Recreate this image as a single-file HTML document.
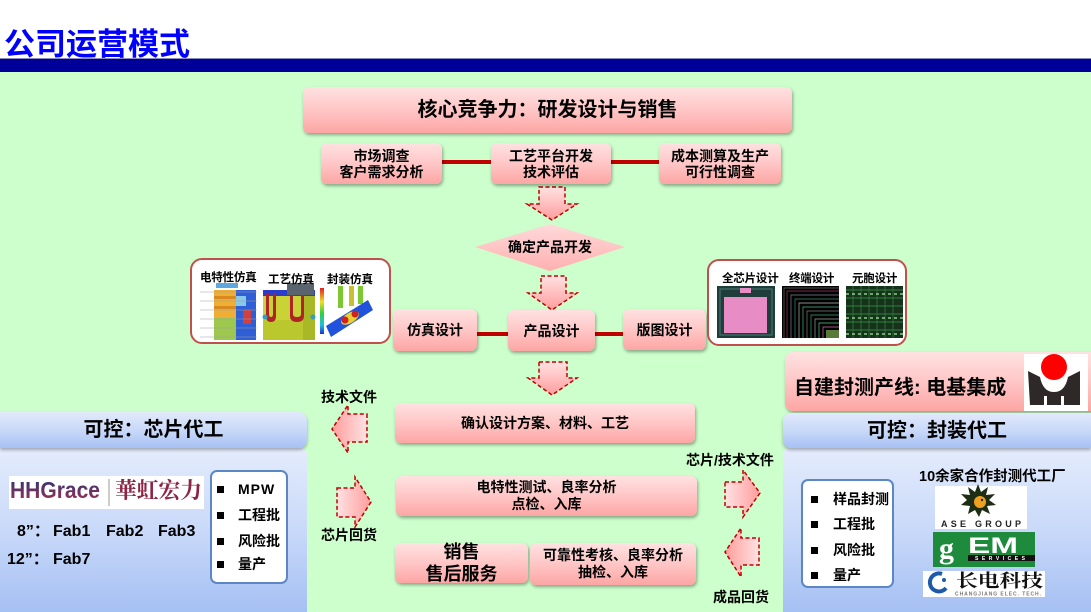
<!DOCTYPE html>
<html><head><meta charset="utf-8">
<style>
*{margin:0;padding:0;box-sizing:border-box}
body{width:1091px;height:612px;overflow:hidden;background:#fff;position:relative;font-family:"Liberation Sans","Noto Sans CJK SC",sans-serif;font-weight:bold;color:#000}
.a{position:absolute}
.pk{position:absolute;background:linear-gradient(to bottom,#FFE2E2 0%,#FFC6C6 50%,#FCA6A4 100%);border-radius:6px;box-shadow:1px 2px 3px rgba(0,0,0,.35);display:flex;align-items:center;justify-content:center;text-align:center;font-size:14px;line-height:16px}
.lb{position:absolute;font-size:14px;line-height:16px;white-space:nowrap}
.il{position:absolute;font-size:11.5px;line-height:14px;white-space:nowrap;letter-spacing:-0.2px}
.bh{position:absolute;background:linear-gradient(to bottom,#E2EAFB 0%,#C6D7F8 55%,#A6C1F4 100%);box-shadow:0 2px 3px rgba(0,0,0,.3);display:flex;align-items:center;justify-content:center;font-size:20px;line-height:24px}
.bb{position:absolute;background:linear-gradient(to bottom,#E4ECFC 0%,#C9D9F9 50%,#A5C0F3 100%)}
.ul{position:absolute;background:#fff;border:2px solid #5B87C5;border-radius:7px}
.sq{position:absolute;width:7px;height:7px;background:#000}
.bt{position:absolute;font-size:14px;line-height:16px;white-space:nowrap}
.ip{position:absolute;background:#fff;border:2.5px solid #C0504D;border-radius:12px}
.fb{position:absolute;font-size:16px;line-height:18px;white-space:nowrap}
</style></head><body>

<div class="a" style="left:4px;top:27px;font-size:31px;line-height:36px;color:#0000FF;white-space:nowrap">公司运营模式</div>
<div class="a" style="left:0;top:58px;width:1091px;height:14px;background:#000099;border-top:1px solid #8C8CC4"></div>
<div class="a" style="left:0;top:72px;width:1091px;height:540px;background:#CCFFCC"></div>

<svg class="a" style="left:0;top:0" width="1091" height="612">
<defs>
<linearGradient id="gv" x1="0" y1="0" x2="0" y2="1"><stop offset="0" stop-color="#FFE2E2"/><stop offset="1" stop-color="#FF9C9C"/></linearGradient>
<linearGradient id="gl" x1="1" y1="0" x2="0" y2="0"><stop offset="0" stop-color="#FFE2E2"/><stop offset="1" stop-color="#FF9C9C"/></linearGradient>
<linearGradient id="gr" x1="0" y1="0" x2="1" y2="0"><stop offset="0" stop-color="#FFE2E2"/><stop offset="1" stop-color="#FF9C9C"/></linearGradient>
<linearGradient id="gd" x1="0" y1="0" x2="0" y2="1"><stop offset="0" stop-color="#FFDADA"/><stop offset="1" stop-color="#FFB0B0"/></linearGradient>
</defs>
<g fill="#C00000">
<rect x="440" y="160" width="53" height="4"/>
<rect x="609" y="160" width="52" height="4"/>
<rect x="475" y="332" width="35" height="4"/>
<rect x="593" y="332" width="32" height="4"/>
</g>
<polygon points="475,247 550,224 625,247 550,271" fill="url(#gd)"/>
<g stroke="#C00000" stroke-width="1.5" stroke-dasharray="4 2.5">
<path d="M539,187H565V204H577L552,220L527,204H539Z" fill="url(#gv)"/>
<path d="M541,276H566V293H577L552,310L528,293H541Z" fill="url(#gv)"/>
<path d="M539,362H567V378H577L552,395L528,378H539Z" fill="url(#gv)"/>
<path d="M367,414V442H348V453L332,429L348,405V414Z" fill="url(#gl)"/>
<path d="M337,488H355V477L371,502L355,527V517H337Z" fill="url(#gr)"/>
<path d="M725,482H743V470L760,493L743,517V507H725Z" fill="url(#gr)"/>
<path d="M759,538V565H741V577L725,552L741,528V538Z" fill="url(#gl)"/>
</g>
</svg>

<div class="pk" style="left:303px;top:87px;width:489px;height:46px;font-size:20px;line-height:24px">核心竞争力：研发设计与销售</div>
<div class="pk" style="left:321px;top:143px;width:121px;height:41px">市场调查<br>客户需求分析</div>
<div class="pk" style="left:491px;top:143px;width:120px;height:41px">工艺平台开发<br>技术评估</div>
<div class="pk" style="left:659px;top:143px;width:122px;height:41px">成本测算及生产<br>可行性调查</div>
<div class="a" style="left:475px;top:238px;width:150px;text-align:center;font-size:14px;line-height:18px">确定产品开发</div>

<div class="pk" style="left:393px;top:309px;width:84px;height:42px">仿真设计</div>
<div class="pk" style="left:508px;top:310px;width:87px;height:41px">产品设计</div>
<div class="pk" style="left:623px;top:309px;width:83px;height:41px">版图设计</div>

<div class="pk" style="left:395px;top:403px;width:300px;height:40px">确认设计方案、材料、工艺</div>
<div class="pk" style="left:396px;top:476px;width:301px;height:40px;line-height:17px">电特性测试、良率分析<br>点检、入库</div>
<div class="pk" style="left:395px;top:543px;width:133px;height:40px;font-size:18px;line-height:22px">销售<br>售后服务</div>
<div class="pk" style="left:530px;top:543px;width:166px;height:42px;line-height:17px">可靠性考核、良率分析<br>抽检、入库</div>

<div class="lb" style="left:321px;top:389px">技术文件</div>
<div class="lb" style="left:321px;top:527px">芯片回货</div>
<div class="lb" style="left:686px;top:452px">芯片/技术文件</div>
<div class="lb" style="left:713px;top:589px">成品回货</div>

<!-- image panels -->
<div class="ip" style="left:190px;top:258px;width:201px;height:86px"></div>
<div class="ip" style="left:707px;top:259px;width:200px;height:87px"></div>

<!-- right header box -->
<div class="pk" style="left:785px;top:352px;width:320px;height:59px;justify-content:flex-start;font-size:20px;line-height:24px;border-radius:8px"><span style="margin-left:9px;margin-top:12px">自建封测产线: 电基集成</span></div>

<!-- left blue panel -->
<div class="bb" style="left:0;top:448px;width:307px;height:164px;border-radius:0 6px 0 0"></div>
<div class="bh" style="left:0;top:412px;width:307px;height:36px;border-radius:0 8px 8px 0">可控：芯片代工</div>
<!-- right blue panel -->
<div class="bb" style="left:783px;top:448px;width:308px;height:164px;border-radius:6px 0 0 0"></div>
<div class="bh" style="left:783px;top:413px;width:308px;height:35px;border-radius:8px 0 0 8px">可控：封装代工</div>

<div class="ul" style="left:210px;top:470px;width:78px;height:114px"></div>
<div class="sq" style="left:217px;top:486px"></div><div class="bt" style="left:238px;top:481px;letter-spacing:1px">MPW</div>
<div class="sq" style="left:217px;top:512px"></div><div class="bt" style="left:238px;top:507px">工程批</div>
<div class="sq" style="left:217px;top:538px"></div><div class="bt" style="left:238px;top:533px">风险批</div>
<div class="sq" style="left:217px;top:561px"></div><div class="bt" style="left:238px;top:556px">量产</div>

<div class="ul" style="left:801px;top:479px;width:93px;height:109px"></div>
<div class="sq" style="left:811px;top:496px"></div><div class="bt" style="left:833px;top:491px">样品封测</div>
<div class="sq" style="left:811px;top:521px"></div><div class="bt" style="left:833px;top:516px">工程批</div>
<div class="sq" style="left:811px;top:547px"></div><div class="bt" style="left:833px;top:542px">风险批</div>
<div class="sq" style="left:811px;top:572px"></div><div class="bt" style="left:833px;top:567px">量产</div>

<div class="fb" style="left:17px;top:523px">8”：</div>
<div class="fb" style="left:53px;top:523px">Fab1</div>
<div class="fb" style="left:106px;top:523px">Fab2</div>
<div class="fb" style="left:158px;top:523px">Fab3</div>
<div class="fb" style="left:7px;top:551px">12”：</div>
<div class="fb" style="left:53px;top:551px">Fab7</div>

<div class="lb" style="left:919px;top:469px;font-size:14.5px">10余家合作封测代工厂</div>

<!-- image labels -->
<div class="il" style="left:200px;top:271px">电特性仿真</div>
<div class="il" style="left:722px;top:272px">全芯片设计</div>
<div class="il" style="left:789px;top:272px">终端设计</div>
<div class="il" style="left:852px;top:272px">元胞设计</div>

<svg class="a" style="left:0;top:0" width="1091" height="612">
<defs>
<linearGradient id="cb" x1="0" y1="0" x2="0" y2="1"><stop offset="0" stop-color="#E02020"/><stop offset=".3" stop-color="#F0E020"/><stop offset=".55" stop-color="#30D040"/><stop offset=".8" stop-color="#20C0E0"/><stop offset="1" stop-color="#2030D0"/></linearGradient>
<linearGradient id="hh" x1="0" y1="0" x2="0" y2="1"><stop offset="0" stop-color="#22337A"/><stop offset="1" stop-color="#A8304E"/></linearGradient>
</defs>
<!-- left image 1 -->
<rect x="200" y="285" width="57" height="55" fill="#fff"/>
<rect x="214" y="290" width="22" height="50" fill="#EFAE34"/>
<rect x="214" y="296" width="22" height="3" fill="#D88A20"/>
<rect x="214" y="306" width="22" height="3" fill="#D88A20"/>
<rect x="214" y="318" width="22" height="22" fill="#9CC84E"/>
<rect x="236" y="290" width="20" height="50" fill="#2F5FD6"/>
<rect x="236" y="296" width="10" height="10" fill="#88C8E8"/>
<rect x="243" y="310" width="8" height="14" fill="#D04040"/>
<rect x="216" y="283" width="22" height="5" fill="#5EA8E0"/>
<g stroke="#A0A0A0" stroke-width="0.6"><line x1="200" y1="292" x2="257" y2="292"/><line x1="200" y1="301" x2="257" y2="301"/><line x1="200" y1="310" x2="257" y2="310"/><line x1="200" y1="319" x2="257" y2="319"/><line x1="200" y1="328" x2="257" y2="328"/><line x1="200" y1="337" x2="257" y2="337"/></g>
<!-- left image 2 -->
<rect x="263" y="293" width="52" height="47" fill="#C9D336"/>
<rect x="263" y="320" width="52" height="20" fill="#BAC82E"/>
<rect x="303" y="296" width="12" height="44" fill="#A8B826"/>
<rect x="263" y="290" width="52" height="6" fill="#2A3CC8"/>
<path d="M266,294 v22 q0,6 5,6 q5,0 5,-6 v-22 h-3 v20 q0,3 -2,3 q-2,0 -2,-3 v-20z" fill="#B02428"/>
<path d="M290,294 v22 q0,6 7,6 q7,0 7,-6 v-22 h-3 v20 q0,3 -4,3 q-4,0 -4,-3 v-20z" fill="#B02428"/>
<rect x="287" y="283" width="27" height="12" fill="#5A646E"/>
<circle cx="265" cy="317" r="2.5" fill="#30A0C0"/><circle cx="313" cy="317" r="2.5" fill="#30A0C0"/>
<!-- left image 3 -->
<rect x="319" y="284" width="54" height="56" fill="#fff"/>
<rect x="320" y="288" width="4" height="46" fill="url(#cb)"/>
<path d="M338,286 h5 v22 h-5z" fill="#7CC832"/><path d="M349,286 h5 v20 h-5z" fill="#C8C030"/><path d="M358,286 h5 v18 h-5z" fill="#7CC832"/>
<polygon points="326,326 368,300 373,310 331,337" fill="#2052DC"/>
<ellipse cx="350" cy="318" rx="10" ry="5" transform="rotate(-32 350 318)" fill="#E8D030"/>
<circle cx="345" cy="320" r="3.5" fill="#D02020"/><circle cx="355" cy="314" r="3.5" fill="#D02020"/>
<!-- right image 1 -->
<rect x="717" y="286" width="58" height="52" fill="#1F3D3B"/>
<rect x="720" y="289" width="52" height="46" fill="none" stroke="#4E7C72" stroke-width="1"/>
<rect x="724" y="297" width="43" height="36" fill="#E88CC6"/>
<rect x="740" y="288" width="11" height="5" fill="#E88CC6"/>
<!-- right image 2 -->
<rect x="782" y="286" width="57" height="52" fill="#000"/>
<g fill="none" stroke-width="0.9">
<polyline points="784,338 784,288 839,288" stroke="#555"/>
<polyline points="787,338 787,291 839,291" stroke="#7A2A4A"/>
<polyline points="791,338 791,295 839,295" stroke="#606070"/>
<polyline points="795,338 795,299 839,299" stroke="#2E6A5A"/>
<polyline points="799,338 799,303 839,303" stroke="#8A8A8A"/>
<polyline points="803,338 803,307 839,307" stroke="#3A8A6A"/>
<polyline points="807,338 807,311 839,311" stroke="#606060"/>
<polyline points="811,338 811,315 839,315" stroke="#2E7A5A"/>
<polyline points="815,338 815,319 839,319" stroke="#7A7A7A"/>
<polyline points="819,338 819,323 839,323" stroke="#3A9A6A"/>
<polyline points="823,338 823,327 839,327" stroke="#9A5A7A"/>
</g>
<rect x="826" y="330" width="13" height="8" fill="#5A7A3A"/>
<!-- right image 3 -->
<rect x="846" y="286" width="57" height="52" fill="#17321B"/>
<g stroke="#3C9A4C" stroke-width="0.8">
<line x1="846" y1="290" x2="903" y2="290"/><line x1="846" y1="298" x2="903" y2="298"/><line x1="846" y1="306" x2="903" y2="306"/><line x1="846" y1="314" x2="903" y2="314"/><line x1="846" y1="322" x2="903" y2="322"/><line x1="846" y1="330" x2="903" y2="330"/>
</g>
<g stroke="#2E7A3A" stroke-width="0.8">
<line x1="853" y1="286" x2="853" y2="338"/><line x1="861" y1="286" x2="861" y2="338"/><line x1="869" y1="286" x2="869" y2="338"/><line x1="877" y1="286" x2="877" y2="338"/><line x1="885" y1="286" x2="885" y2="338"/><line x1="893" y1="286" x2="893" y2="338"/>
</g>
<g stroke="#8ACF8A" stroke-width="1.5" stroke-dasharray="3 3">
<line x1="846" y1="294" x2="903" y2="294"/><line x1="846" y1="318" x2="903" y2="318"/><line x1="846" y1="334" x2="903" y2="334"/>
</g>
<text x="268" y="283" font-size="11.5" font-weight="bold" font-family="Liberation Sans, Noto Sans CJK SC, sans-serif">工艺仿真</text>
<text x="327" y="283" font-size="11.5" font-weight="bold" font-family="Liberation Sans, Noto Sans CJK SC, sans-serif">封装仿真</text>

<!-- 电基 logo -->
<rect x="1024" y="354" width="64" height="57" fill="#fff"/>
<path d="M1028,371 L1040,377 Q1043,392 1054,392 Q1065,392 1068,377 L1080,371 L1080,405 L1030,405 Z" fill="#2E2828"/>
<rect x="1044" y="396" width="3" height="9" fill="#fff"/>
<rect x="1061" y="396" width="3" height="9" fill="#fff"/>
<circle cx="1054" cy="367" r="13" fill="#FF0000"/>

<!-- HHGrace logo -->
<rect x="9" y="476" width="195" height="33" fill="#fff"/>
<text x="10" y="498" font-size="23" font-weight="bold" font-family="Liberation Sans, sans-serif" fill="url(#hh)" textLength="90" lengthAdjust="spacingAndGlyphs">HHGrace</text>
<line x1="109" y1="479" x2="109" y2="506" stroke="#999" stroke-width="1"/>
<text x="115" y="498" font-size="22" font-family="Noto Serif CJK SC, serif" fill="#8E2444" textLength="87" lengthAdjust="spacingAndGlyphs">華虹宏力</text>

<!-- ASE -->
<rect x="935" y="486" width="92" height="43" fill="#fff"/>
<polygon points="978,484 981,492 988,487 986,495 995,494 989,500 996,505 987,506 990,514 982,510 979,517 975,510 968,514 970,506 961,505 967,500 961,494 970,495 968,487 975,492" fill="#1E2E14"/>
<circle cx="980" cy="502" r="6" fill="#F0A020"/>
<circle cx="982" cy="500" r="1.2" fill="#1E2E14"/>
<text x="941" y="527" font-size="9" font-weight="bold" font-family="Liberation Sans, sans-serif" fill="#222" textLength="80" lengthAdjust="spacing">ASE GROUP</text>

<!-- gEM -->
<rect x="933" y="532" width="102" height="35" fill="#1E8A3C"/>
<text x="939" y="558" font-size="30" font-weight="bold" font-family="Liberation Serif, serif" fill="#fff">g</text>
<text x="968" y="553" font-size="22" font-weight="bold" font-family="Liberation Sans, sans-serif" fill="#fff" textLength="50" lengthAdjust="spacingAndGlyphs">EM</text>
<rect x="968" y="555" width="67" height="6" fill="#111"/>
<text x="975" y="560" font-size="5" font-family="Liberation Sans, sans-serif" fill="#fff" textLength="50">SERVICES</text>

<!-- 长电科技 -->
<rect x="923" y="571" width="122" height="26" fill="#fff"/>
<path d="M942,574 a9,9 0 1 0 4,14" fill="none" stroke="#1E5AA8" stroke-width="4"/>
<circle cx="944" cy="580" r="2" fill="#1E5AA8"/>
<text x="956" y="587" font-size="18" font-weight="bold" font-family="Noto Serif CJK SC, serif" fill="#111" textLength="87" lengthAdjust="spacingAndGlyphs">长电科技</text>
<text x="955" y="595.5" font-size="5" font-family="Liberation Sans, sans-serif" fill="#777" textLength="86">CHANGJIANG ELEC. TECH.</text>
</svg>
</body></html>
